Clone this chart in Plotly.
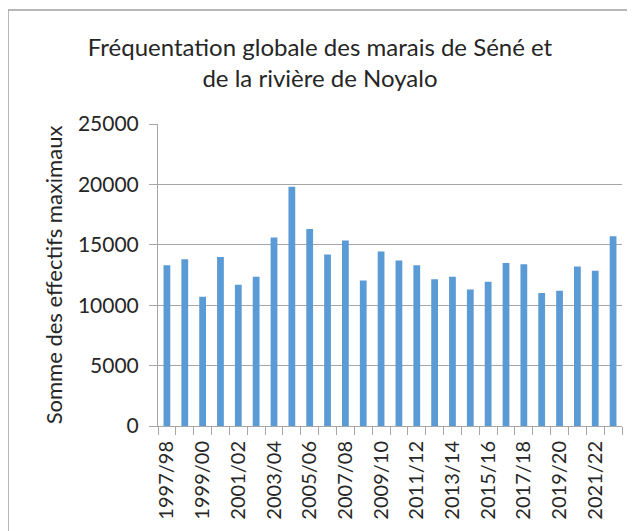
import plotly.graph_objects as go

seasons = ["1997/98", "1998/99", "1999/00", "2000/01", "2001/02", "2002/03", "2003/04",
           "2004/05", "2005/06", "2006/07", "2007/08", "2008/09", "2009/10", "2010/11",
           "2011/12", "2012/13", "2013/14", "2014/15", "2015/16", "2016/17", "2017/18",
           "2018/19", "2019/20", "2020/21", "2021/22", "2022/23"]
effectifs = [13300, 13800, 10700, 14000, 11700, 12350, 15600, 19800, 16300, 14200,
             15350, 12050, 14450, 13700, 13300, 12150, 12350, 11300, 11950, 13500,
             13400, 11000, 11200, 13200, 12850, 15700]
y_ticks = [0, 5000, 10000, 15000, 20000, 25000]
y_tick_labels = ["0", "5000", "10000", "15000", "20000", "25000"]

positions = list(range(len(seasons)))
FONT = "Lato"
TXT = "#262626"
GRID = "#A6A6A6"

fig = go.Figure(go.Bar(x=positions, y=effectifs, marker=dict(color="#5B9BD5", line=dict(width=0)),
                       width=0.38))

# page body has an 8px margin: figure is offset by 8px in the window
L, R, T, B = 150, 13, 116, 105
W, H = 627, 523
pw, ph = W - L - R, H - T - B

fig.update_layout(
    width=W, height=H,
    margin=dict(l=L, r=R, t=T, b=B),
    paper_bgcolor="white", plot_bgcolor="white",
    showlegend=False,
    title=dict(text="Fréquentation globale des marais de Séné et<br>de la rivière de Noyalo",
               x=312 / W, xanchor="center", y=1 - 48 / H, yanchor="middle",
               font=dict(family=FONT, size=24, color=TXT)),
    xaxis=dict(range=[-0.5, len(seasons) - 0.5], tickmode="array",
               tickvals=positions[::2], ticktext=seasons[::2], tickangle=-90,
               ticks="", showgrid=False, zeroline=False,
               showline=True, linecolor=GRID, linewidth=1,
               ticklabelstandoff=6,
               tickfont=dict(family=FONT, size=20, color=TXT),
               minor=dict(tickmode="linear", tick0=-0.5, dtick=1, ticks="outside",
                          ticklen=8, tickcolor=GRID, showgrid=False)),
    yaxis=dict(range=[0, 25000], tickmode="array", tickvals=y_ticks, ticktext=y_tick_labels,
               ticks="outside", ticklen=8,
               tickcolor=GRID, showgrid=True, gridcolor=GRID, gridwidth=1,
               zeroline=False, showline=True, linecolor=GRID, linewidth=1,
               ticklabelstandoff=6,
               tickfont=dict(family=FONT, size=21, color=TXT),
               title=dict(text="Somme des effectifs maximaux", standoff=9,
                          font=dict(family=FONT, size=22, color=TXT))),
    shapes=[dict(type="rect", xref="paper", yref="paper",
                 x0=(0 - L) / pw, x1=(W + 20 - L) / pw,
                 y0=(H - B - (H + 20)) / ph, y1=(H - B - 2) / ph,
                 line=dict(color="#A0A0A0", width=1.5), fillcolor="rgba(0,0,0,0)",
                 layer="below")],
)

fig.write_html("out.html")
